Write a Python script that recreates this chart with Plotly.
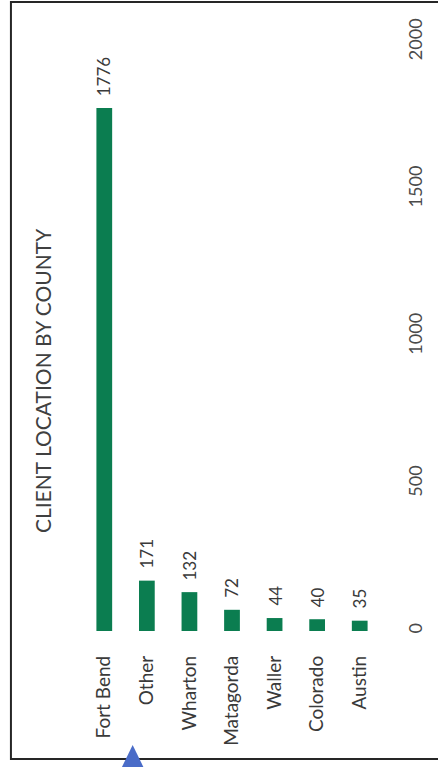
import plotly.graph_objects as go

# Client counts per county
counties = ["Fort Bend", "Other", "Wharton", "Matagorda", "Waller", "Colorado", "Austin"]
clients = [1776, 171, 132, 72, 44, 40, 35]
value_ticks = [0, 500, 1000, 1500, 2000]

W, H = 438, 767
L, R, T, B = 83, 49, 42, 136
FONT = "Lato"
TXT = "#3a3a3a"
BAR = "#0b7d50"

# pixel -> paper helpers for the page frame
def px(x):
    return (x - L) / (W - L - R)

def py(y):
    return (H - B - y) / (H - T - B)

fig = go.Figure(go.Bar(
    x=counties, y=clients,
    marker=dict(color=BAR, line=dict(width=0)),
    width=0.37,
))

for c, v in zip(counties, clients):
    fig.add_annotation(
        x=c, y=v, text=str(v), textangle=-90, showarrow=False,
        xanchor="center", yanchor="bottom", yshift=10,
        font=dict(family=FONT, size=17, color=TXT),
    )

fig.add_annotation(
    xref="paper", yref="paper", x=px(41), y=py(381),
    text="CLIENT LOCATION BY COUNTY", textangle=-90, showarrow=False,
    xanchor="center", yanchor="middle",
    font=dict(family=FONT, size=21, color="#404040"),
)

# page frame and the pointer mark below it
fig.add_shape(type="rect", xref="paper", yref="paper",
              x0=px(9), x1=px(460), y0=py(759), y1=py(2),
              line=dict(color="#262626", width=2), layer="below")
fig.add_shape(type="path", xref="paper", yref="paper",
              path=f"M {px(123)} {py(767)} L {px(134)} {py(745)} L {px(145)} {py(767)} Z",
              fillcolor="#4a6cc8", line=dict(width=0))

fig.update_layout(
    width=W, height=H,
    margin=dict(l=L, r=R, t=T, b=B, pad=0),
    paper_bgcolor="white", plot_bgcolor="white",
    showlegend=False,
    font=dict(family=FONT, color=TXT),
    xaxis=dict(
        tickangle=-90, showgrid=False, showline=False, zeroline=False,
        ticks="", ticklabelstandoff=20,
        tickfont=dict(family=FONT, size=19, color=TXT),
    ),
    yaxis=dict(
        side="right", range=[0, 2000], tickvals=value_ticks,
        tickangle=-90, showgrid=False, showline=False, zeroline=False,
        ticks="", ticklabelstandoff=22,
        tickfont=dict(family=FONT, size=18, color="#4a4a4a"),
    ),
)

fig.write_html("out.html")
